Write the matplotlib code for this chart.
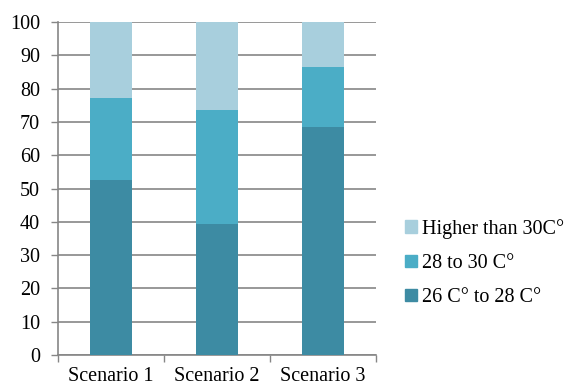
import numpy as np
import matplotlib.pyplot as plt
from matplotlib.patches import Patch

scenarios = ['Scenario 1', 'Scenario 2', 'Scenario 3']
low = [52.6, 39.2, 68.6]    # 26 C° to 28 C°
mid = [24.7, 34.5, 18.0]    # 28 to 30 C°
high = [22.7, 26.3, 13.4]   # Higher than 30C°
labels = ['26 C° to 28 C°', '28 to 30 C°', 'Higher than 30C°']
colors = ['#3d8ba3', '#4badc6', '#a8cfdd']

plt.rcParams['font.family'] = ['Liberation Serif', 'DejaVu Serif']
plt.rcParams['font.size'] = 14.5

fig = plt.figure(figsize=(5.73, 3.88), dpi=100)
ax = fig.add_axes([0.1012, 0.0851, 0.555, 0.858])

x = np.arange(len(scenarios))
w = 0.4
ax.bar(x, low, w, color=colors[0], zorder=3)
ax.bar(x, mid, w, bottom=low, color=colors[1], zorder=3)
ax.bar(x, high, w, bottom=np.add(low, mid), color=colors[2], zorder=3)

ax.set_xlim(-0.5, 2.5)
ax.set_ylim(0, 100)
ax.set_yticks(range(0, 101, 10))
ax.set_xticks(x)
ax.set_xticklabels(scenarios)
ax.set_xticks([-0.5, 0.5, 1.5, 2.5], minor=True)
ax.tick_params(axis='x', which='major', length=0, pad=9)
ax.tick_params(axis='x', which='minor', length=5, color='#868686', width=1)
ax.tick_params(axis='y', length=5, color='#868686', width=1, pad=8)
ax.grid(axis='y', color='#868686', linewidth=1.2, zorder=0)

for s in ['top', 'right']:
    ax.spines[s].set_visible(False)
for s in ['left', 'bottom']:
    ax.spines[s].set_color('#868686')
    ax.spines[s].set_linewidth(1.2)

handles = [Patch(color=c, label=l) for c, l in zip(colors, labels)][::-1]
fig.legend(handles=handles, loc='center left', bbox_to_anchor=(0.707, 0.322),
           frameon=False, handlelength=0.6, handleheight=0.6, handletextpad=0.25,
           labelspacing=0.75, fontsize=14.5, borderpad=0, borderaxespad=0)

fig.savefig('out.png', dpi=100)
